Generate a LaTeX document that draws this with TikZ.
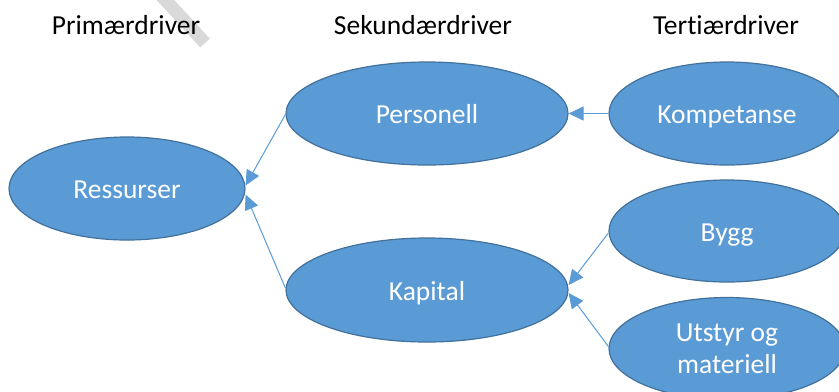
\documentclass[tikz,border=0pt]{standalone}
\usepackage{fontspec}
\setmainfont{Carlito}[Ligatures={NoCommon}]
\usetikzlibrary{shapes.geometric,arrows.meta}
\definecolor{nodefill}{HTML}{5B9BD5}
\definecolor{nodeedge}{HTML}{41719C}
\definecolor{arrowcol}{HTML}{5B9BD5}
\definecolor{markgray}{HTML}{D9D9D9}
\tikzset{
  driver/.style={ellipse, draw=nodeedge, line width=1.2bp, fill=nodefill, text=white,
    inner sep=0pt, align=center, font=\fontsize{27.5bp}{32bp}\selectfont},
  oneline/.style={text height=20bp, text depth=0pt},
  header/.style={text=black, inner sep=0pt, font=\fontsize{27.5bp}{32bp}\selectfont},
  link/.style={draw=arrowcol, line width=1bp, -{Triangle[length=15bp,width=14bp]}}
}
\begin{document}
\begin{tikzpicture}[x=1bp,y=-1bp]
\useasboundingbox (0,0) rectangle (839,391);
\clip (0,0) rectangle (839,391);
\fill[white] (0,0) rectangle (839,391);
\draw[markgray, line width=13bp] (158,-8) -- (205,43);
\node[header] (h1) at (126,25) {Primærdriver};
\node[header] (h2) at (423,25) {Sekundærdriver};
\node[header] (h3) at (726,25) {Tertiærdriver};
\node[driver, oneline, minimum width=236bp, minimum height=103bp] (ress) at (127,188.5) {Ressurser};
\node[driver, oneline, minimum width=282bp, minimum height=103bp] (pers) at (427,113.5) {Personell};
\node[driver, oneline, minimum width=282bp, minimum height=104bp] (kap) at (427,290) {Kapital};
\node[driver, oneline, minimum width=236bp, minimum height=103bp] (komp) at (727,113.5) {Kompetanse};
\node[driver, oneline, minimum width=236bp, minimum height=102bp] (bygg) at (727,231) {Bygg};
\node[driver, minimum width=236bp, minimum height=102bp] (utst) at (727,348.5) {Utstyr og\\materiell};
\draw[link] ([yshift=-1bp]pers.west) -- ([yshift=3bp]ress.east);
\draw[link] ([yshift=2bp]kap.west) -- ([yshift=-6bp]ress.east);
\draw[link] (komp.west) -- (pers.east);
\draw[link] ([yshift=-2bp]bygg.west) -- ([yshift=5bp]kap.east);
\draw[link] ([yshift=2bp]utst.west) -- ([yshift=-3bp]kap.east);
\end{tikzpicture}
\end{document}
